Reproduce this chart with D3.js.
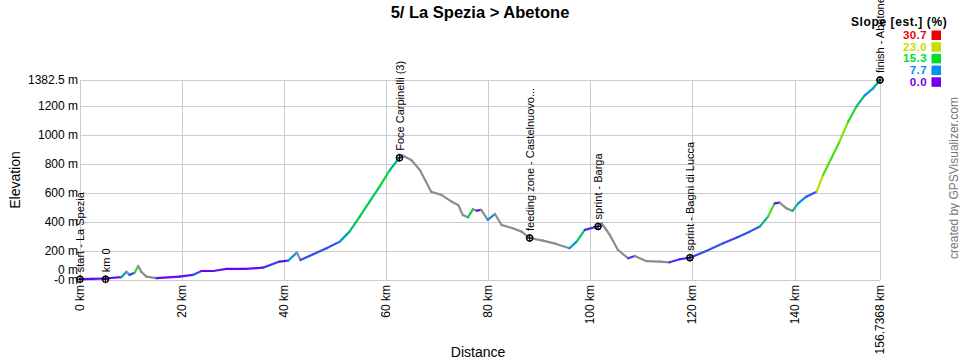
<!DOCTYPE html>
<html>
<head>
<meta charset="utf-8">
<script src="https://cdn.jsdelivr.net/npm/d3@7"></script>
<style>
  body { margin: 0; background: #fff; }
  text { font-family: "Liberation Sans", Arial, sans-serif; }
</style>
</head>
<body>
<svg id="chart" width="960" height="360"></svg>
<script>
// profile: distance (km) and elevation (m)
const distKm = [0, 2.5, 4.8, 8.1, 9.1, 9.7, 10.7, 11.4, 12.0, 13.0, 15.0, 19.5, 22.1, 23.8, 26.1, 28.7,
  32.6, 35.9, 39.1, 40.8, 42.5, 43.2, 45.7, 48.3, 50.9, 52.8, 54.8, 56.8, 58.7, 60.7, 62.6, 63.3,
  64.9, 66.6, 68.8, 70.8, 72.8, 74.1, 75.0, 76.0, 77.0, 77.7, 78.6, 79.9, 81.3, 82.6, 84.8, 86.5,
  88.1, 90.7, 93.3, 95.9, 97.3, 98.9, 101.5, 102.2, 103.8, 105.4, 107.4, 108.7, 111.0, 113.6,
  115.5, 117.5, 119.5, 122.7, 126.0, 128.6, 131.2, 133.2, 134.8, 136.1, 137.1, 138.4, 139.6,
  140.7, 142.3, 144.3, 145.6, 147.2, 148.8, 150.5, 152.1, 153.7, 155.4, 156.7368];
const elevM = [5, 8, 10, 19, 57, 35, 50, 97, 57, 23, 12, 23, 35, 62, 62, 76,
  76, 85, 127, 134, 189, 138, 178, 219, 265, 334, 438, 545, 645, 760, 845, 859,
  829, 760, 610, 588, 541, 518, 449, 433, 489, 479, 484, 415, 456, 380, 357, 334,
  290, 272, 249, 219, 265, 346, 370, 392, 311, 207, 150, 166, 130, 126,
  122, 143, 154, 200, 254, 292, 334, 369, 438, 530, 534, 495, 477,
  530, 576, 610, 726, 841, 956, 1094, 1198, 1274, 1325, 1382.5];

// waypoints
const wpName = ["start - La Spezia", "km 0", "Foce Carpinelli (3)", "feeding zone - Castelnuovo...",
  "sprint - Barga", "sprint - Bagni di Lucca", "finish - Abetone"];
const wpKm = [0, 5.0, 62.6, 88.1, 101.5, 119.5, 156.7368];
const wpElev = [5, 5, 845, 290, 370, 154, 1382.5];

// axes
const xTicks = [0, 20, 40, 60, 80, 100, 120, 140, 156.7368];
const xTickLabels = ["0 km", "20 km", "40 km", "60 km", "80 km", "100 km", "120 km", "140 km", "156.7368 km"];
const yTicks = [-0.4, 0, 200, 400, 600, 800, 1000, 1200, 1382.5];
const yTickLabels = ["-0 m", "0 m", "200 m", "400 m", "600 m", "800 m", "1000 m", "1200 m", "1382.5 m"];

// slope legend
const legendVals = [30.7, 23.0, 15.3, 7.7, 0.0];
const legendColors = ["#ee0000", "#c8dc00", "#00dd2a", "#0090ee", "#7000ee"];

const svg = d3.select("#chart");
const plotL = 80, plotR = 880, plotT = 80, plotB = 280;

const x = d3.scaleLinear().domain([0, 156.7368]).range([plotL, plotR]);
const y = d3.scaleLinear().domain([-0.4, 1382.5]).range([plotB, plotT]);

// the slope colours on the line are noisy in the source, so the ramp is squeezed a bit
const slopeColor = d3.scaleLinear()
  .domain([0, 3, 6, 9, 12])
  .range(legendColors.slice().reverse())
  .clamp(true);

svg.append("rect").attr("width", 960).attr("height", 360).attr("fill", "#fff");

// grid
const grid = svg.append("g").attr("stroke", "#cccccc").attr("stroke-width", 1).attr("shape-rendering", "crispEdges");
grid.selectAll("line.h")
  .data(yTicks.filter(d => d !== 0))
  .enter().append("line")
  .attr("x1", plotL).attr("x2", plotR)
  .attr("y1", d => Math.round(y(d)) + 0.5).attr("y2", d => Math.round(y(d)) + 0.5);
grid.selectAll("line.v")
  .data(xTicks)
  .enter().append("line")
  .attr("y1", plotT).attr("y2", plotB)
  .attr("x1", d => Math.round(x(d)) + 0.5).attr("x2", d => Math.round(x(d)) + 0.5);

// y tick labels
svg.append("g").selectAll("text")
  .data(yTicks)
  .enter().append("text")
  .attr("x", 78)
  .attr("y", d => y(d) + 4 - (d === 0 ? 10 : 0))
  .attr("text-anchor", "end")
  .attr("font-size", 12)
  .text((d, i) => yTickLabels[i]);

// x tick labels
svg.append("g").selectAll("text")
  .data(xTicks)
  .enter().append("text")
  .attr("transform", d => `translate(${x(d) + 4},285) rotate(-90)`)
  .attr("text-anchor", "end")
  .attr("font-size", 12)
  .text((d, i) => xTickLabels[i]);

// profile, one segment per pair of points, coloured by slope (grey going down)
const segs = d3.range(distKm.length - 1).map(i => ({
  x0: distKm[i], y0: elevM[i], x1: distKm[i + 1], y1: elevM[i + 1],
  slope: (elevM[i + 1] - elevM[i]) / ((distKm[i + 1] - distKm[i]) * 1000) * 100
}));
svg.append("g").selectAll("line")
  .data(segs)
  .enter().append("line")
  .attr("x1", d => x(d.x0)).attr("y1", d => y(d.y0))
  .attr("x2", d => x(d.x1)).attr("y2", d => y(d.y1))
  .attr("stroke", d => d.slope < 0 ? "#8c8c8c" : slopeColor(d.slope))
  .attr("stroke-width", 2.2)
  .attr("stroke-linecap", "round");

// waypoints
const wp = svg.append("g").selectAll("g")
  .data(wpName)
  .enter().append("g")
  .attr("transform", (d, i) => `translate(${x(wpKm[i])},${y(wpElev[i])})`);
wp.append("circle").attr("r", 3).attr("fill", "none").attr("stroke", "#000").attr("stroke-width", 1.3);
wp.append("path").attr("d", "M-4,0H4M0,-4V4").attr("stroke", "#000").attr("stroke-width", 1);
wp.append("text")
  .attr("transform", "translate(4,-7) rotate(-90)")
  .attr("font-size", 11)
  .text(d => d);

// titles
svg.append("text")
  .attr("x", 480).attr("y", 18)
  .attr("text-anchor", "middle")
  .attr("font-size", 16.5).attr("font-weight", "bold")
  .text("5/ La Spezia > Abetone");
svg.append("text")
  .attr("transform", "translate(20,180) rotate(-90)")
  .attr("text-anchor", "middle")
  .attr("font-size", 14)
  .text("Elevation");
svg.append("text")
  .attr("x", 478).attr("y", 357)
  .attr("text-anchor", "middle")
  .attr("font-size", 14)
  .text("Distance");
svg.append("text")
  .attr("transform", "translate(958,178) rotate(-90)")
  .attr("text-anchor", "middle")
  .attr("font-size", 12)
  .attr("fill", "#777")
  .text("created by GPSVisualizer.com");

// legend
const lg = svg.append("g");
lg.append("text")
  .attr("x", 851).attr("y", 26)
  .attr("font-size", 12).attr("font-weight", "bold")
  .attr("letter-spacing", 0.6)
  .text("Slope [est.] (%)");
const row = lg.selectAll("g.row")
  .data(legendVals)
  .enter().append("g")
  .attr("transform", (d, i) => `translate(0,${35 + i * 11.7})`);
row.append("text")
  .attr("x", 927).attr("y", 4)
  .attr("text-anchor", "end")
  .attr("font-size", 11.5).attr("font-weight", "bold")
  .attr("letter-spacing", 0.4)
  .attr("fill", (d, i) => legendColors[i])
  .text(d => d.toFixed(1));
row.append("rect")
  .attr("x", 931.5).attr("y", -4.5)
  .attr("width", 9.5).attr("height", 9.5)
  .attr("fill", (d, i) => legendColors[i]);
</script>
</body>
</html>
